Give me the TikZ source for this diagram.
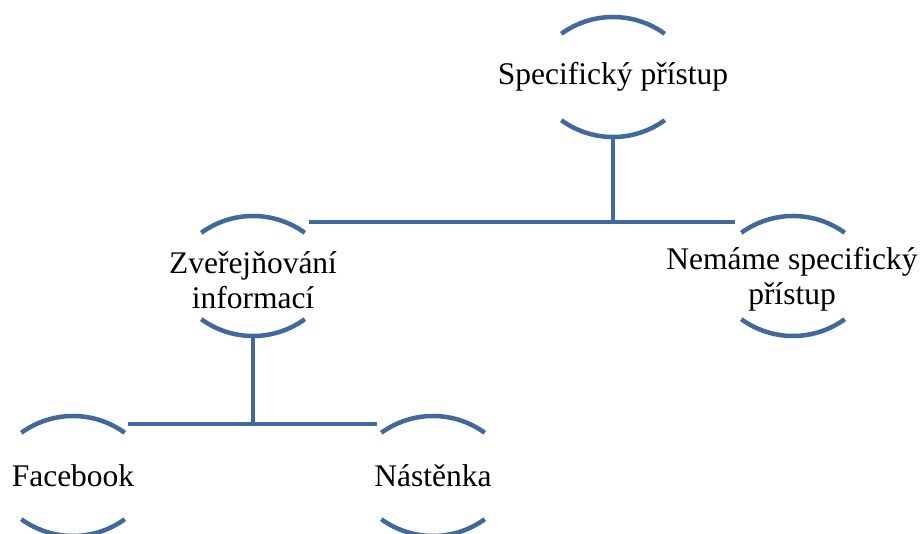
\documentclass[tikz,border=0pt]{standalone}
\usepackage{fontspec}
\setmainfont{Liberation Serif}
\usetikzlibrary{calc}
\definecolor{arcblue}{RGB}{65,105,155}
\begin{document}
\begin{tikzpicture}[x=1pt,y=1pt,
  lbl/.style={font=\fontsize{31.5}{35}\selectfont, align=center, inner sep=0pt},
  conn/.style={draw=arcblue, line width=4.5pt},
  arcline/.style={draw=arcblue, line width=4.5pt}]
\useasboundingbox (0,0) rectangle (922,-534);
\node[lbl] (spec) at (613,-77) {Specifický přístup};
\node[lbl] (zver) at (253,-280) {Zveřejňování\\informací};
\node[lbl] (nem) at (792,-279) {Nemáme specifický\\přístup};
\node[lbl] (fb) at (73,-476) {Facebook};
\node[lbl] (nas) at (433,-476) {Nástěnka};
\coordinate (specC) at (613,-77);
\coordinate (zverC) at (253,-276);
\coordinate (nemC) at (793,-276);
\coordinate (fbC) at (73,-476);
\coordinate (nasC) at (433,-476);
\foreach \n in {specC,zverC,nemC,fbC,nasC} {
  \draw[arcline] ($(\n)+(-51.7pt,43.2pt)$) arc[start angle=126,end angle=54,radius=88pt];
  \draw[arcline] ($(\n)+(-51.7pt,-43.2pt)$) arc[start angle=-126,end angle=-54,radius=88pt];
}
\coordinate (specbot) at (613,-137);
\coordinate (j1) at (613,-222);
\coordinate (b1l) at (309,-222);
\coordinate (b1r) at (735,-222);
\coordinate (zverbot) at (253,-337);
\coordinate (j2) at (253,-424);
\coordinate (b2l) at (128,-424);
\coordinate (b2r) at (377,-424);
\draw[conn] (specbot) -- (j1);
\draw[conn] (b1l) -- (b1r);
\draw[conn] (zverbot) -- (j2);
\draw[conn] (b2l) -- (b2r);
\end{tikzpicture}
\end{document}
